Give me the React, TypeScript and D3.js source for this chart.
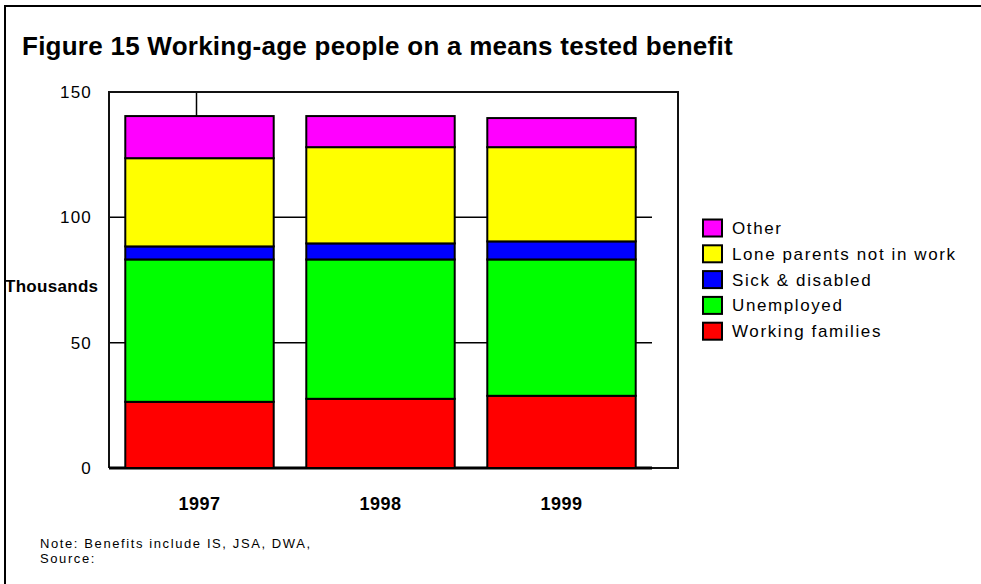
import { useEffect, useRef } from 'react'
import * as d3 from 'd3'

// Values in thousands
const years = ['1997', '1998', '1999']
const workingFamilies = [26.4, 27.6, 28.8]
const unemployed = [56.8, 55.6, 54.4]
const sickDisabled = [5.2, 6.4, 7.2]
const loneParents = [35.2, 38.4, 37.6]
const other = [16.8, 12.4, 11.6]

const seriesNames = ['Working families', 'Unemployed', 'Sick & disabled', 'Lone parents not in work', 'Other']
const seriesColors = ['#ff0000', '#00ff00', '#0000ff', '#ffff00', '#ff00ff']
const yTicks = [0, 50, 100, 150]

const FONT = '"Liberation Sans", Arial, Helvetica, sans-serif'

const App = () => {
	const svgRef = useRef<SVGSVGElement>(null)

	useEffect(() => {
		const width = 981
		const height = 584
		const plot = { left: 109, top: 92, right: 678, bottom: 468, gridRight: 652 }

		const svg = d3.select(svgRef.current)
		svg.selectAll('*').remove()
		svg.attr('width', width).attr('height', height).attr('viewBox', `0 0 ${width} ${height}`)

		const rows = years.map((year, i) => ({
			year,
			'Working families': workingFamilies[i],
			Unemployed: unemployed[i],
			'Sick & disabled': sickDisabled[i],
			'Lone parents not in work': loneParents[i],
			Other: other[i],
		}))

		const stacked = d3.stack().keys(seriesNames)(rows as any)

		const x = d3
			.scaleBand()
			.domain(years)
			.range([plot.left, plot.gridRight])
			.paddingInner(0.18)
			.paddingOuter(0.09)

		const y = d3.scaleLinear().domain([0, 150]).range([plot.bottom, plot.top])

		const color = d3.scaleOrdinal<string, string>().domain(seriesNames).range(seriesColors)

		// background + outer frame
		svg.append('rect').attr('width', width).attr('height', height).attr('fill', '#fff')
		svg
			.append('rect')
			.attr('x', 5)
			.attr('y', 6)
			.attr('width', width + 20)
			.attr('height', height + 20)
			.attr('fill', 'none')
			.attr('stroke', '#000')
			.attr('stroke-width', 2)

		// title
		svg
			.append('text')
			.attr('x', 22)
			.attr('y', 55)
			.attr('font-family', FONT)
			.attr('font-size', 26)
			.attr('font-weight', 'bold')
			.attr('letter-spacing', 0.25)
			.text('Figure 15 Working-age people on a means tested benefit')

		// gridlines
		svg
			.append('g')
			.selectAll('line')
			.data(yTicks.filter((t) => t > 0 && t < 150))
			.join('line')
			.attr('x1', plot.left)
			.attr('x2', plot.gridRight)
			.attr('y1', (d) => y(d))
			.attr('y2', (d) => y(d))
			.attr('stroke', '#000')
			.attr('stroke-width', 1.5)

		// small connector line above first bar
		svg
			.append('line')
			.attr('x1', x('1997')! + x.bandwidth() / 2 - 3)
			.attr('x2', x('1997')! + x.bandwidth() / 2 - 3)
			.attr('y1', plot.top)
			.attr('y2', y(workingFamilies[0] + unemployed[0] + sickDisabled[0] + loneParents[0] + other[0]))
			.attr('stroke', '#000')
			.attr('stroke-width', 1.5)

		// plot frame
		svg
			.append('path')
			.attr('d', `M${plot.left},${plot.bottom}V${plot.top}H${plot.right}V${plot.bottom}H${plot.left}`)
			.attr('fill', 'none')
			.attr('stroke', '#111')
			.attr('stroke-width', 2)
		svg
			.append('line')
			.attr('x1', plot.left)
			.attr('x2', plot.gridRight)
			.attr('y1', plot.bottom)
			.attr('y2', plot.bottom)
			.attr('stroke', '#000')
			.attr('stroke-width', 3)

		// bars
		svg
			.append('g')
			.selectAll('g')
			.data(stacked)
			.join('g')
			.attr('fill', (d) => color(d.key))
			.selectAll('rect')
			.data((d) => d)
			.join('rect')
			.attr('x', (d: any) => x(d.data.year)!)
			.attr('y', (d) => y(d[1]))
			.attr('width', x.bandwidth())
			.attr('height', (d) => y(d[0]) - y(d[1]))
			.attr('stroke', '#000')
			.attr('stroke-width', 2)

		// y tick labels
		svg
			.append('g')
			.selectAll('text')
			.data(yTicks)
			.join('text')
			.attr('x', 92)
			.attr('y', (d) => y(d))
			.attr('dy', '0.36em')
			.attr('text-anchor', 'end')
			.attr('font-family', FONT)
			.attr('font-size', 17)
			.attr('letter-spacing', 1.2)
			.text((d) => d)

		// y axis title
		svg
			.append('text')
			.attr('x', 5)
			.attr('y', 292)
			.attr('font-family', FONT)
			.attr('font-size', 17)
			.attr('font-weight', 'bold')
			.attr('letter-spacing', 0.3)
			.text('Thousands')

		// x labels
		svg
			.append('g')
			.selectAll('text')
			.data(years)
			.join('text')
			.attr('x', (d) => x(d)! + x.bandwidth() / 2)
			.attr('y', 510)
			.attr('text-anchor', 'middle')
			.attr('font-family', FONT)
			.attr('font-size', 18)
			.attr('font-weight', 'bold')
			.attr('letter-spacing', 0.5)
			.text((d) => d)

		// legend (top item = Other)
		const legendItems = seriesNames.slice().reverse()
		const legend = svg
			.append('g')
			.selectAll('g')
			.data(legendItems)
			.join('g')
			.attr('transform', (_, i) => `translate(703,${228 + i * 25.8})`)
		legend
			.append('rect')
			.attr('x', 0)
			.attr('y', -8.5)
			.attr('width', 19)
			.attr('height', 17)
			.attr('fill', (d) => color(d))
			.attr('stroke', '#000')
			.attr('stroke-width', 2)
		legend
			.append('text')
			.attr('x', 29)
			.attr('y', 6)
			.attr('font-family', FONT)
			.attr('font-size', 17)
			.attr('letter-spacing', 1.6)
			.text((d) => d)

		// note
		const note = svg
			.append('text')
			.attr('font-family', FONT)
			.attr('font-size', 13)
			.attr('letter-spacing', 1.6)
		note.append('tspan').attr('x', 40).attr('y', 548).text('Note: Benefits include IS, JSA, DWA,')
		note.append('tspan').attr('x', 40).attr('y', 563).text('Source:')
	}, [])

	return <svg ref={svgRef} style={{ position: 'absolute', left: 0, top: 0, display: 'block' }}></svg>
}

export default App
